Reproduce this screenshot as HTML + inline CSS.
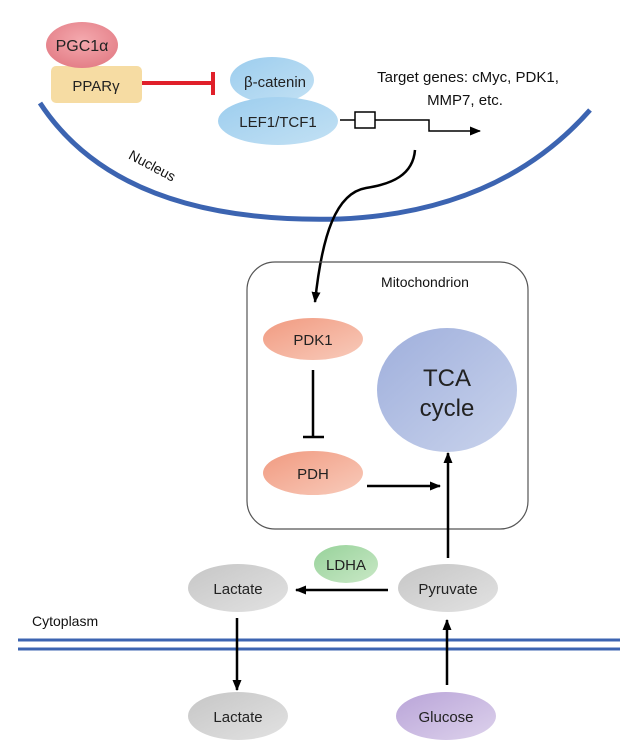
<!DOCTYPE html>
<html><head><meta charset="utf-8"><style>
html,body{margin:0;padding:0;background:#fff;}
svg{display:block;font-family:"Liberation Sans",sans-serif;}
</style></head><body>
<svg width="632" height="748" viewBox="0 0 632 748" xmlns="http://www.w3.org/2000/svg">
<defs>
<radialGradient id="pk" cx="50%" cy="40%" r="60%"><stop offset="0" stop-color="#f4a9ae"/><stop offset="1" stop-color="#e47f88"/></radialGradient>
<linearGradient id="bl" x1="0" y1="0" x2="1" y2="1"><stop offset="0" stop-color="#9ccdee"/><stop offset="1" stop-color="#c3e1f4"/></linearGradient>
<linearGradient id="sa" x1="0" y1="0" x2="1" y2="1"><stop offset="0" stop-color="#f19a80"/><stop offset="1" stop-color="#f8cbbb"/></linearGradient>
<linearGradient id="tca" x1="0" y1="0" x2="1" y2="1"><stop offset="0" stop-color="#9fafdc"/><stop offset="1" stop-color="#c9d3ec"/></linearGradient>
<linearGradient id="gr" x1="0" y1="0" x2="1" y2="1"><stop offset="0" stop-color="#c6c6c6"/><stop offset="1" stop-color="#e2e2e2"/></linearGradient>
<linearGradient id="gl" x1="0" y1="0" x2="1" y2="1"><stop offset="0" stop-color="#b9a4d8"/><stop offset="1" stop-color="#ddd2ec"/></linearGradient>
<linearGradient id="gn" x1="0" y1="0" x2="1" y2="1"><stop offset="0" stop-color="#97d29a"/><stop offset="1" stop-color="#c9e8c6"/></linearGradient>
<marker id="ar" markerWidth="12" markerHeight="12" refX="10" refY="6" orient="auto" markerUnits="userSpaceOnUse"><path d="M0,1.5 L11,6 L0,10.5 z" fill="#000"/></marker>
</defs>

<path d="M40,103 Q120,225 340,219 Q500,212 590,110" fill="none" stroke="#3c64b1" stroke-width="5"/>
<text x="150" y="170" font-size="14" transform="rotate(28 150 170)" text-anchor="middle" fill="#111">Nucleus</text>

<rect x="51" y="66" width="91" height="37" rx="5" fill="#f6dca3"/>
<ellipse cx="82" cy="45" rx="36" ry="23" fill="url(#pk)"/>
<text x="82" y="51" font-size="16" text-anchor="middle" fill="#222">PGC1α</text>
<text x="96" y="91" font-size="15" text-anchor="middle" fill="#222">PPARγ</text>
<line x1="142" y1="83" x2="212" y2="83" stroke="#e0202a" stroke-width="4"/>
<line x1="213" y1="72" x2="213" y2="95" stroke="#e0202a" stroke-width="4"/>

<ellipse cx="272" cy="80" rx="42" ry="23" fill="url(#bl)"/>
<ellipse cx="278" cy="121" rx="60" ry="24" fill="url(#bl)"/>
<text x="275" y="87" font-size="15" text-anchor="middle" fill="#222">β-catenin</text>
<text x="278" y="127" font-size="15" text-anchor="middle" fill="#222">LEF1/TCF1</text>

<line x1="340" y1="120" x2="355" y2="120" stroke="#000" stroke-width="1.5"/>
<rect x="355" y="112" width="20" height="16" fill="#fff" stroke="#000" stroke-width="1.5"/>
<path d="M375,120 H429 V131 H480" fill="none" stroke="#000" stroke-width="1.5" marker-end="url(#ar)"/>
<text x="468" y="82" font-size="15" text-anchor="middle" fill="#111">Target genes: cMyc, PDK1,</text>
<text x="465" y="105" font-size="15" text-anchor="middle" fill="#111">MMP7, etc.</text>

<path d="M415,150 C413,175 392,184 366,188 C336,193 322,235 315,302" fill="none" stroke="#000" stroke-width="2.5" marker-end="url(#ar)"/>

<rect x="247" y="262" width="281" height="267" rx="28" fill="none" stroke="#555" stroke-width="1.2"/>
<text x="425" y="287" font-size="14" text-anchor="middle" fill="#111">Mitochondrion</text>
<ellipse cx="313" cy="339" rx="50" ry="21" fill="url(#sa)"/>
<text x="313" y="345" font-size="15" text-anchor="middle" fill="#222">PDK1</text>
<line x1="313" y1="370" x2="313" y2="437" stroke="#000" stroke-width="2.5"/>
<line x1="303" y1="437" x2="324" y2="437" stroke="#000" stroke-width="2.5"/>
<ellipse cx="313" cy="473" rx="50" ry="22" fill="url(#sa)"/>
<text x="313" y="479" font-size="15" text-anchor="middle" fill="#222">PDH</text>
<ellipse cx="447" cy="390" rx="70" ry="62" fill="url(#tca)"/>
<text x="447" y="386" font-size="24" text-anchor="middle" fill="#222">TCA</text>
<text x="447" y="416" font-size="24" text-anchor="middle" fill="#222">cycle</text>
<line x1="367" y1="486" x2="440" y2="486" stroke="#000" stroke-width="2.5" marker-end="url(#ar)"/>
<line x1="448" y1="558" x2="448" y2="453" stroke="#000" stroke-width="2.5" marker-end="url(#ar)"/>

<ellipse cx="346" cy="564" rx="32" ry="19" fill="url(#gn)"/>
<text x="346" y="570" font-size="15" text-anchor="middle" fill="#222">LDHA</text>
<ellipse cx="238" cy="588" rx="50" ry="24" fill="url(#gr)"/>
<text x="238" y="594" font-size="15" text-anchor="middle" fill="#222">Lactate</text>
<ellipse cx="448" cy="588" rx="50" ry="24" fill="url(#gr)"/>
<text x="448" y="594" font-size="15" text-anchor="middle" fill="#222">Pyruvate</text>
<line x1="388" y1="590" x2="296" y2="590" stroke="#000" stroke-width="2.5" marker-end="url(#ar)"/>
<text x="32" y="626" font-size="14" fill="#111">Cytoplasm</text>
<line x1="18" y1="640" x2="620" y2="640" stroke="#3c64b1" stroke-width="3"/>
<line x1="18" y1="649" x2="620" y2="649" stroke="#3c64b1" stroke-width="3"/>
<line x1="237" y1="618" x2="237" y2="690" stroke="#000" stroke-width="2.5" marker-end="url(#ar)"/>
<line x1="447" y1="685" x2="447" y2="620" stroke="#000" stroke-width="2.5" marker-end="url(#ar)"/>
<ellipse cx="238" cy="716" rx="50" ry="24" fill="url(#gr)"/>
<text x="238" y="722" font-size="15" text-anchor="middle" fill="#222">Lactate</text>
<ellipse cx="446" cy="716" rx="50" ry="24" fill="url(#gl)"/>
<text x="446" y="722" font-size="15" text-anchor="middle" fill="#222">Glucose</text>
</svg>
</body></html>
